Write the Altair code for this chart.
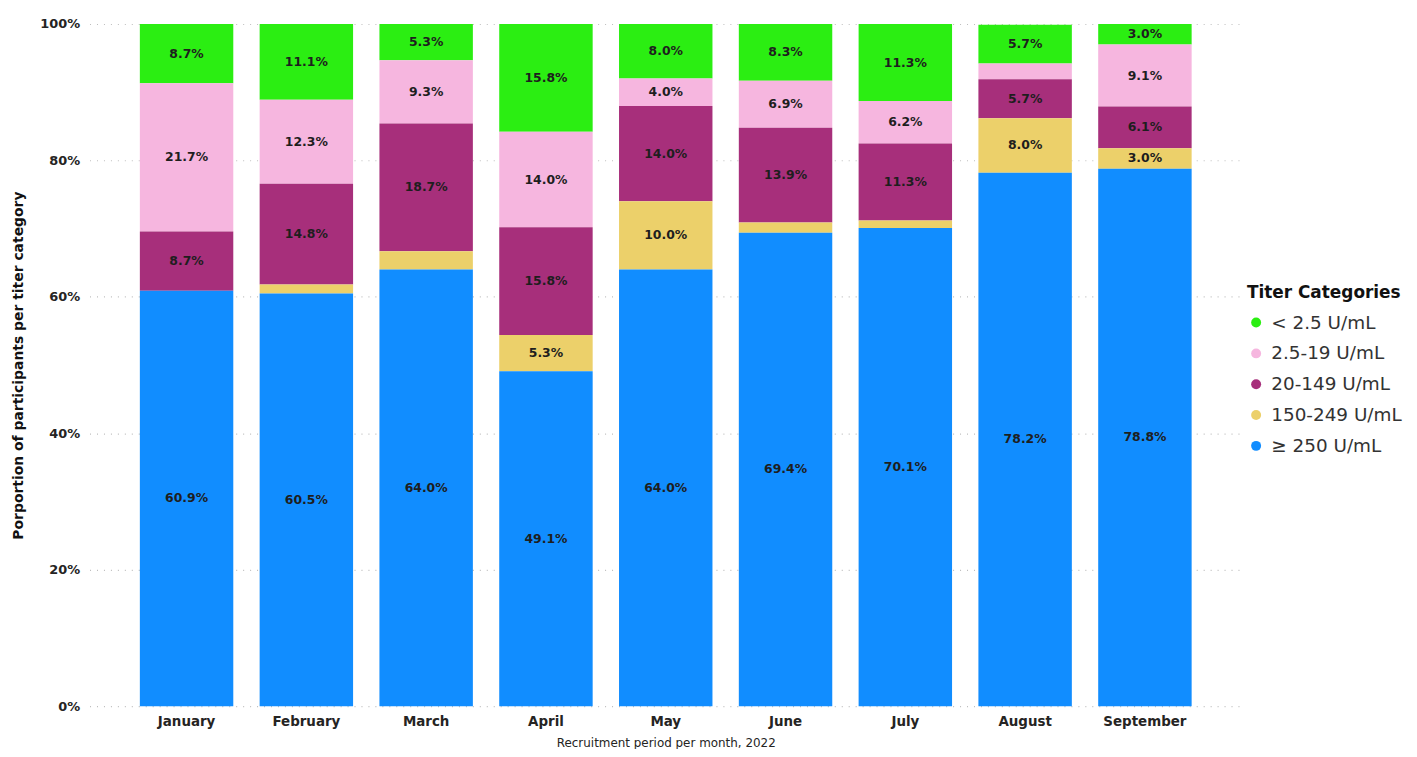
import altair as alt
import pandas as pd

months = ["January", "February", "March", "April", "May", "June", "July", "August", "September"]
categories = ["< 2.5 U/mL", "2.5-19 U/mL", "20-149 U/mL", "150-249 U/mL", "≥ 250 U/mL"]
colors = ["#2bee12", "#f6b6df", "#a72f7b", "#ecd06a", "#118dff"]

lt_2_5 = [8.7, 11.1, 5.3, 15.8, 8.0, 8.3, 11.3, 5.7, 3.0]
r_2_5_19 = [21.7, 12.3, 9.3, 14.0, 4.0, 6.9, 6.2, 2.3, 9.1]
r_20_149 = [8.7, 14.8, 18.7, 15.8, 14.0, 13.9, 11.3, 5.7, 6.1]
r_150_249 = [0.0, 1.3, 2.7, 5.3, 10.0, 1.5, 1.1, 8.0, 3.0]
ge_250 = [60.9, 60.5, 64.0, 49.1, 64.0, 69.4, 70.1, 78.2, 78.8]

series = [lt_2_5, r_2_5_19, r_20_149, r_150_249, ge_250]
y_ticks = [0, 20, 40, 60, 80, 100]

rows = []
for ci, (cat, vals) in enumerate(zip(categories, series)):
    for m, v in zip(months, vals):
        rows.append({"month": m, "category": cat, "value": v,
                     "order": len(categories) - 1 - ci,
                     "label": f"{v:.1f}%"})
df = pd.DataFrame(rows)

FONT = "DejaVu Sans"

base = alt.Chart(df).transform_stack(
    stack="value", groupby=["month"], as_=["v0", "v1"],
    sort=[alt.SortField("order", order="ascending")]
)

x_enc = alt.X("month:N", sort=months, title="Recruitment period per month, 2022",
              scale=alt.Scale(paddingInner=0.22, paddingOuter=0.42),
              axis=alt.Axis(labelAngle=0, labelFontWeight="bold", labelFontSize=13.5,
                            labelColor="#252423", labelPadding=8, ticks=False, domain=False,
                            titleFontSize=12, titleFontWeight="normal", titleColor="#252423",
                            titlePadding=10, labelFont=FONT, titleFont=FONT))

bars = base.mark_bar().encode(
    x=x_enc,
    y=alt.Y("v0:Q", scale=alt.Scale(domain=[0, 100], nice=False),
            title="Porportion of participants per titer category",
            axis=alt.Axis(values=y_ticks, labelExpr="datum.value + '%'",
                          labelFontWeight="bold", labelFontSize=13, labelColor="#252423",
                          labelPadding=10, ticks=False, domain=False,
                          grid=True, gridDash=[1, 6], gridColor="#bdbdbd", gridWidth=1.2,
                          titleFontSize=14, titleFontWeight="bold", titleColor="#111111",
                          titlePadding=14, labelFont=FONT, titleFont=FONT)),
    y2="v1:Q",
    color=alt.Color("category:N", scale=alt.Scale(domain=categories, range=colors),
                    title="Titer Categories",
                    legend=alt.Legend(orient="none", legendX=1164, legendY=263,
                                      symbolType="circle", symbolSize=100,
                                      labelFontSize=18.5, labelColor="#333333", labelFont=FONT,
                                      titleFontSize=17, titleFontWeight="bold", titleColor="#111111",
                                      titleFont=FONT, titlePadding=11, rowPadding=12,
                                      labelOffset=6, padding=0, symbolStrokeWidth=0)),
)

texts = base.transform_filter("datum.value >= 3").transform_calculate(
    mid="(datum.v0 + datum.v1) / 2"
).mark_text(fontWeight="bold", fontSize=12.5, color="#1e1e1e", font=FONT, baseline="middle").encode(
    x=alt.X("month:N", sort=months),
    y=alt.Y("mid:Q"),
    text="label:N",
)

chart = alt.layer(bars, texts).properties(
    width=1159, height=686,
    autosize=alt.AutoSizeParams(type="none"),
    padding={"left": 82, "top": 14, "right": 168, "bottom": 41},
).configure_view(stroke=None)

chart.save("out.html", embed_options={"renderer": "svg", "actions": False})
